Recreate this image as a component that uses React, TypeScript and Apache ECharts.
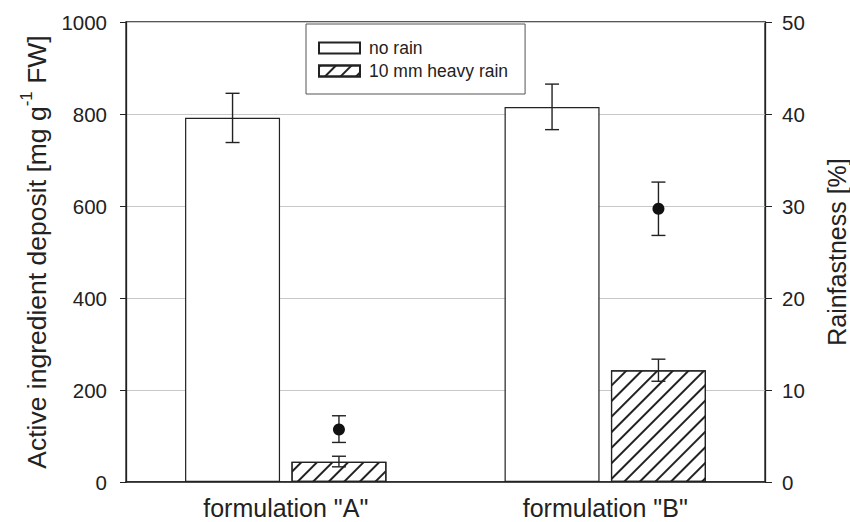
import React, { useEffect, useRef } from "react";
import * as echarts from "echarts";

const categories = ['formulation "A"', 'formulation "B"'];
const noRain = [792, 815];
const noRainErr = [
  [738, 845],
  [766, 865],
];
const heavyRain = [44, 243];
const heavyRainErr = [
  [33, 56],
  [219, 267],
];
const rainfastness = [5.7, 29.7];
const rainfastnessErr = [
  [4.3, 7.2],
  [26.8, 32.6],
];

const FONT = "Liberation Sans, Arial, sans-serif";
const BAR_W = 95;
const BAR_GAP = 0.12;
const OFFSET = (BAR_W * (1 + BAR_GAP)) / 2;

function errSeries(name: string, errs: number[][], offset: number, yAxisIndex: number) {
  return {
    type: "custom",
    name,
    yAxisIndex,
    z: 5,
    silent: true,
    data: errs.map((e, i) => [i, e[0], e[1]]),
    renderItem: (params: any, api: any) => {
      const lo = api.coord([api.value(0), api.value(1)]);
      const hi = api.coord([api.value(0), api.value(2)]);
      const x = lo[0] + offset;
      const hw = 7;
      const style = { stroke: "#222", lineWidth: 1.4 };
      return {
        type: "group",
        children: [
          { type: "line", shape: { x1: x, y1: lo[1], x2: x, y2: hi[1] }, style },
          { type: "line", shape: { x1: x - hw, y1: lo[1], x2: x + hw, y2: lo[1] }, style },
          { type: "line", shape: { x1: x - hw, y1: hi[1], x2: x + hw, y2: hi[1] }, style },
        ],
      };
    },
  };
}

export default function App() {
  const ref = useRef<HTMLDivElement>(null);
  useEffect(() => {
    document.body.style.margin = "0";
    const chart = echarts.init(ref.current!, undefined, { renderer: "svg" });
    const hatch = {
      symbol: "rect",
      symbolSize: 1,
      color: "#222",
      backgroundColor: "#fff",
      dashArrayX: [1, 0],
      dashArrayY: [1.1, 8.5],
      rotation: -Math.PI / 4,
    };
    chart.setOption({
      animation: false,
      textStyle: { fontFamily: FONT, color: "#222" },
      grid: {
        left: 126,
        right: 85,
        top: 22,
        bottom: 40,
        show: true,
        borderColor: "#222",
        borderWidth: 1.3,
        backgroundColor: "transparent",
        containLabel: false,
        outerBoundsMode: "none",
      },
      legend: {
        orient: "vertical",
        left: 306,
        top: 24,
        padding: [15, 17, 14, 12],
        itemGap: 5,
        itemWidth: 41,
        itemHeight: 11,
        borderColor: "#555",
        borderWidth: 1,
        backgroundColor: "#fff",
        textStyle: { fontFamily: FONT, fontSize: 17.5, color: "#222", padding: [0, 0, 0, 4] },
        data: [
          { name: "no rain", icon: "rect" },
          { name: "10 mm heavy rain", icon: "rect" },
        ],
      },
      xAxis: {
        type: "category",
        data: categories,
        axisLine: { lineStyle: { color: "#222", width: 1.6 } },
        axisTick: { show: false },
        axisLabel: { fontFamily: FONT, fontSize: 25, lineHeight: 25, color: "#222", margin: 13 },
      },
      yAxis: [
        {
          type: "value",
          min: 0,
          max: 1000,
          interval: 200,
          axisLine: { show: true, lineStyle: { color: "#222", width: 1.3 } },
          axisTick: { show: true, length: 6, lineStyle: { color: "#222" } },
          axisLabel: { fontFamily: FONT, fontSize: 20.5, color: "#222", margin: 19, formatter: (v: number) => String(v) },
          splitLine: { lineStyle: { color: "#c8c8c8", width: 1 } },
          name: "{n|Active ingredient deposit [mg g}{s|-1}{n| FW]}",
          nameLocation: "middle",
          nameRotate: 90,
          nameGap: 61,
          nameTextStyle: {
            rich: {
              n: { fontFamily: FONT, fontSize: 26.5, color: "#222", lineHeight: 32, verticalAlign: "bottom" },
              s: { fontFamily: FONT, fontSize: 17, color: "#222", lineHeight: 32, verticalAlign: "top", padding: [0, 0, 9, 0] },
            },
          },
        },
        {
          type: "value",
          min: 0,
          max: 50,
          interval: 10,
          position: "right",
          axisLine: { show: true, lineStyle: { color: "#222", width: 1.3 } },
          axisTick: { show: true, length: 7, lineStyle: { color: "#222" } },
          axisLabel: { fontFamily: FONT, fontSize: 20.5, color: "#222", margin: 17 },
          splitLine: { show: false },
          name: "Rainfastness [%]",
          nameLocation: "middle",
          nameRotate: 90,
          nameGap: 59,
          nameTextStyle: { fontFamily: FONT, fontSize: 25, lineHeight: 25, color: "#222" },
        },
      ],
      series: [
        {
          type: "bar",
          name: "no rain",
          data: noRain,
          barWidth: BAR_W,
          barGap: `${BAR_GAP * 100}%`,
          itemStyle: { color: "#fff", borderColor: "#222", borderWidth: 1.2 },
          z: 2,
        },
        {
          type: "bar",
          name: "10 mm heavy rain",
          data: heavyRain,
          barWidth: BAR_W,
          itemStyle: { color: "#fff", borderColor: "#222", borderWidth: 1.2, decal: hatch },
          z: 2,
        },
        errSeries("noRainErr", noRainErr, -OFFSET, 0),
        errSeries("heavyRainErr", heavyRainErr, OFFSET, 0),
        errSeries("rainfastErr", rainfastnessErr, OFFSET, 1),
        {
          type: "scatter",
          name: "rainfastness",
          yAxisIndex: 1,
          data: rainfastness,
          symbol: "circle",
          symbolSize: 12,
          symbolOffset: [OFFSET, 0],
          itemStyle: { color: "#111", opacity: 1 },
          z: 6,
        },
      ],
    });
    return () => chart.dispose();
  }, []);
  return <div ref={ref} style={{ width: 850, height: 522 }} />;
}
